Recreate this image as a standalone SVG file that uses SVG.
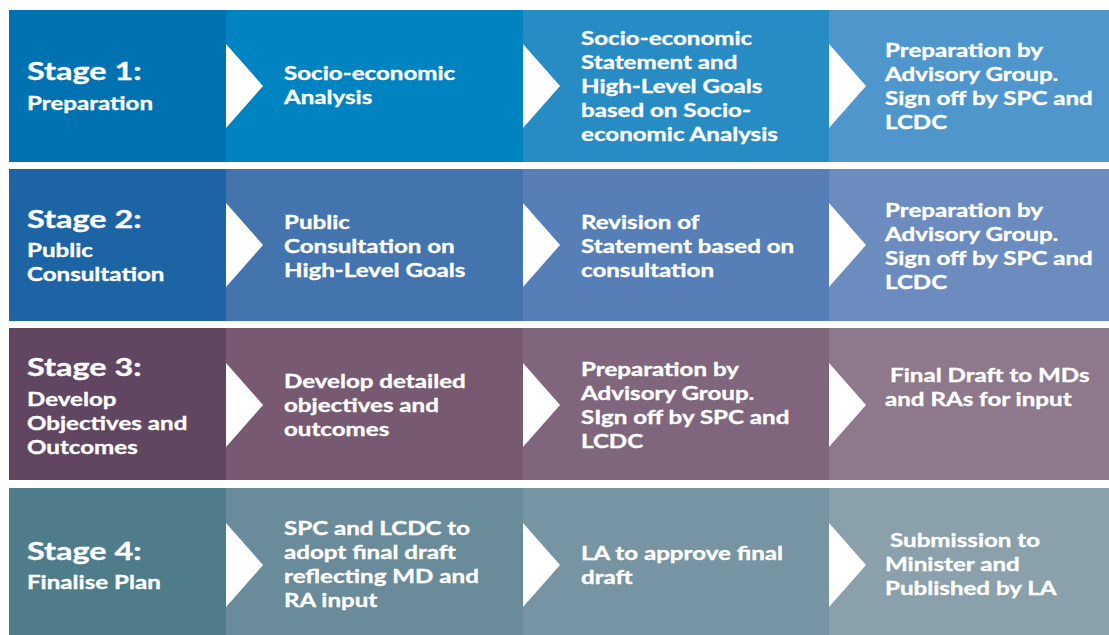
<svg xmlns="http://www.w3.org/2000/svg" width="1109" height="635" viewBox="0 0 1109 635">
<style>
text{font-family:Lato,"Open Sans","Liberation Sans",sans-serif;font-weight:700;fill:#ffffff;stroke:#ffffff;stroke-width:0.35}
.h{font-size:25.5px}
.t{font-size:19px}
.chev{fill:#ffffff}
</style>
<rect width="1109" height="635" fill="#ffffff"/>
<g id="row1">
<g id="stage1"><rect x="9" y="10" width="217" height="152" fill="#0071b1"/>
<text transform="translate(27,80) scale(1.27,1)"><tspan class="h" x="0" y="0">Stage 1:</tspan><tspan class="t" x="0" y="30">Preparation</tspan></text></g>
<g id="s1a"><rect x="226" y="10" width="297" height="152" fill="#0083c1"/>
<text class="t" transform="translate(284,80) scale(1.27,1)"><tspan x="0" y="0">Socio-economic</tspan><tspan x="0" y="24">Analysis</tspan></text></g>
<g id="s1b"><rect x="523" y="10" width="306" height="152" fill="#278bc4"/>
<text class="t" transform="translate(581,45) scale(1.27,1)"><tspan x="0" y="0">Socio-economic</tspan><tspan x="0" y="24">Statement and</tspan><tspan x="0" y="48">High-Level Goals</tspan><tspan x="0" y="72">based on Socio-</tspan><tspan x="0" y="96">economic Analysis</tspan></text></g>
<g id="s1c"><rect x="829" y="10" width="280" height="152" fill="#4e96cb"/>
<text class="t" transform="translate(885,57) scale(1.27,1)"><tspan x="0" y="0">Preparation by</tspan><tspan x="0" y="24">Advisory Group.</tspan><tspan x="0" y="48">Sign off by SPC and</tspan><tspan x="0" y="72">LCDC</tspan></text></g>
</g>
<g id="row2">
<g id="stage2"><rect x="9" y="169" width="217" height="152" fill="#1c64a4"/>
<text transform="translate(27,228) scale(1.27,1)"><tspan class="h" x="0" y="0">Stage 2:</tspan><tspan class="t" x="0" y="29">Public</tspan><tspan class="t" x="0" y="53">Consultation</tspan></text></g>
<g id="s2a"><rect x="226" y="169" width="297" height="152" fill="#4374ae"/>
<text class="t" transform="translate(284,229) scale(1.27,1)"><tspan x="0" y="0">Public</tspan><tspan x="0" y="24">Consultation on</tspan><tspan x="0" y="48">High-Level Goals</tspan></text></g>
<g id="s2b"><rect x="523" y="169" width="306" height="152" fill="#567fb7"/>
<text class="t" transform="translate(581,229) scale(1.27,1)"><tspan x="0" y="0">Revision of</tspan><tspan x="0" y="24">Statement based on</tspan><tspan x="0" y="48">consultation</tspan></text></g>
<g id="s2c"><rect x="829" y="169" width="280" height="152" fill="#6c8cc0"/>
<text class="t" transform="translate(885,217) scale(1.27,1)"><tspan x="0" y="0">Preparation by</tspan><tspan x="0" y="24">Advisory Group.</tspan><tspan x="0" y="48">Sign off by SPC and</tspan><tspan x="0" y="72">LCDC</tspan></text></g>
</g>
<g id="row3">
<g id="stage3"><rect x="9" y="328" width="217" height="152" fill="#614662"/>
<text transform="translate(27,376) scale(1.27,1)"><tspan class="h" x="0" y="0">Stage 3:</tspan><tspan class="t" x="0" y="30">Develop</tspan><tspan class="t" x="0" y="54">Objectives and</tspan><tspan class="t" x="0" y="78">Outcomes</tspan></text></g>
<g id="s3a"><rect x="226" y="328" width="297" height="152" fill="#775a72"/>
<text class="t" transform="translate(284,388) scale(1.27,1)"><tspan x="0" y="0">Develop detailed</tspan><tspan x="0" y="24">objectives and</tspan><tspan x="0" y="48">outcomes</tspan></text></g>
<g id="s3b"><rect x="523" y="328" width="306" height="152" fill="#80667d"/>
<text class="t" transform="translate(581,376) scale(1.27,1)"><tspan x="0" y="0">Preparation by</tspan><tspan x="0" y="24">Advisory Group.</tspan><tspan x="0" y="48">SIgn off by SPC and</tspan><tspan x="0" y="72">LCDC</tspan></text></g>
<g id="s3c"><rect x="829" y="328" width="280" height="152" fill="#8d798b"/>
<text class="t" transform="translate(885,382) scale(1.27,1)"><tspan x="4" y="0">Final Draft to MDs</tspan><tspan x="0" y="24">and RAs for input</tspan></text></g>
</g>
<g id="row4">
<g id="stage4"><rect x="9" y="488" width="217" height="147" fill="#4e7c8b"/>
<text transform="translate(27,560) scale(1.27,1)"><tspan class="h" x="0" y="0">Stage 4:</tspan><tspan class="t" x="0" y="29">Finalise Plan</tspan></text></g>
<g id="s4a"><rect x="226" y="488" width="297" height="147" fill="#698b9a"/>
<text class="t" transform="translate(284,535) scale(1.27,1)"><tspan x="0" y="0">SPC and LCDC to</tspan><tspan x="0" y="24">adopt final draft</tspan><tspan x="0" y="48">reflecting MD and</tspan><tspan x="0" y="72">RA input</tspan></text></g>
<g id="s4b"><rect x="523" y="488" width="306" height="147" fill="#7794a2"/>
<text class="t" transform="translate(581,560) scale(1.27,1)"><tspan x="0" y="0">LA to approve final</tspan><tspan x="0" y="24">draft</tspan></text></g>
<g id="s4c"><rect x="829" y="488" width="280" height="147" fill="#8aa1ac"/>
<text class="t" transform="translate(885,547) scale(1.27,1)"><tspan x="4" y="0">Submission to</tspan><tspan x="0" y="24">Minister and</tspan><tspan x="0" y="48">Published by LA</tspan></text></g>
</g>
<g id="connectors">
<polygon class="chev" points="226,44 263,86 226,128"/>
<polygon class="chev" points="523,44 560,86 523,128"/>
<polygon class="chev" points="829,44 866,86 829,128"/>
<polygon class="chev" points="226,203 263,245 226,287"/>
<polygon class="chev" points="523,203 560,245 523,287"/>
<polygon class="chev" points="829,203 866,245 829,287"/>
<polygon class="chev" points="226,363 263,405 226,447"/>
<polygon class="chev" points="523,363 560,405 523,447"/>
<polygon class="chev" points="829,363 866,405 829,447"/>
<polygon class="chev" points="226,523 263,565 226,607"/>
<polygon class="chev" points="523,523 560,565 523,607"/>
<polygon class="chev" points="829,523 866,565 829,607"/>
</g>
</svg>
